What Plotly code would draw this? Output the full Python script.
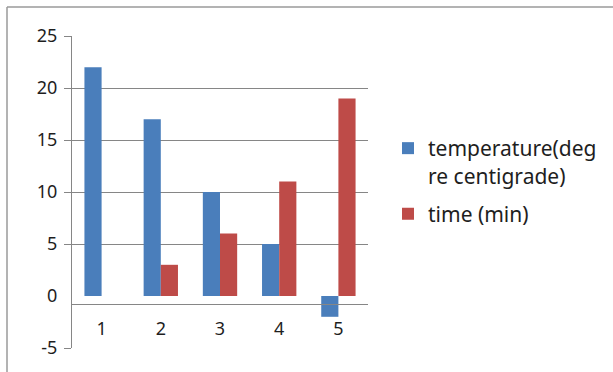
import plotly.graph_objects as go

categories = ["1", "2", "3", "4", "5"]
temperature = [22, 17, 10, 5, -2]
time_min = [None, 3, 6, 11, 19]
y_ticks = [-5, 0, 5, 10, 15, 20, 25]
y_tick_text = ["-5", "0", "5", "10", "15", "20", "25"]
grid_ticks = [-5, 5, 10, 15, 20, 25]

BLUE = "#4A7EBB"
RED = "#BE4B48"
FONT = "Noto Sans"
TXT = "#1e1e1e"
GRID = "#868686"

fig = go.Figure()
fig.add_trace(go.Bar(x=categories, y=temperature, name="temperature(deg<br>re centigrade)",
                     legendgroup="temp",
                     marker=dict(color=BLUE, line=dict(width=0))))
fig.add_trace(go.Bar(x=categories, y=time_min, name="time (min)",
                     legendgroup="time",
                     marker=dict(color=RED, line=dict(width=0))))
# empty helper trace so the gridline axis is drawn
fig.add_trace(go.Scatter(x=categories, y=[None] * len(categories), yaxis="y2",
                         showlegend=False, hoverinfo="skip", mode="markers"))

W, H = 613, 372
L, R, T, B = 72, 245, 36, 24
pw = W - L - R
ph = H - T - B
axis_pos = (348 - 304) / ph

fig.update_layout(
    width=W, height=H,
    margin=dict(l=L, r=R, t=T, b=B, autoexpand=False),
    paper_bgcolor="white", plot_bgcolor="white",
    barmode="group", bargap=0.42, bargroupgap=0,
    font=dict(family=FONT, size=18, color=TXT),
    showlegend=True,
    legend=dict(x=(388 - L) / pw, y=(348 - 128) / ph, xanchor="left", yanchor="top",
                font=dict(family=FONT, size=21, color=TXT), valign="top",
                itemwidth=30, tracegroupgap=8, bgcolor="rgba(0,0,0,0)"),
    xaxis=dict(anchor="free", position=axis_pos, showline=True, linecolor=GRID,
               linewidth=1, showgrid=False, ticks="", ticklabelstandoff=8,
               tickfont=dict(family=FONT, size=18, color=TXT), fixedrange=True),
    yaxis=dict(range=[-5, 25], tickvals=y_ticks, ticktext=y_tick_text, showgrid=False,
               zeroline=False, showline=True, linecolor=GRID, ticks="",
               ticklabelstandoff=10,
               tickfont=dict(family=FONT, size=18, color=TXT), fixedrange=True),
    yaxis2=dict(range=[-5, 25], overlaying="y", side="left", tickvals=grid_ticks,
                showticklabels=False, showgrid=True, gridcolor=GRID, gridwidth=1,
                zeroline=False, showline=False, ticks="outside", ticklen=7,
                tickcolor=GRID, fixedrange=True, layer="below traces"),
    shapes=[
        dict(type="line", xref="paper", yref="paper",
             x0=(7 - L) / pw, x1=(7 - L) / pw, y0=(348 - 380) / ph, y1=(348 - 7) / ph,
             line=dict(color="#9a9a9a", width=1.5)),
        dict(type="line", xref="paper", yref="paper",
             x0=(7 - L) / pw, x1=(620 - L) / pw, y0=(348 - 7) / ph, y1=(348 - 7) / ph,
             line=dict(color="#9a9a9a", width=1.5)),
    ],
)

fig.write_html("out.html", config={"displayModeBar": False},
               post_script="document.body.style.margin='0px';")
